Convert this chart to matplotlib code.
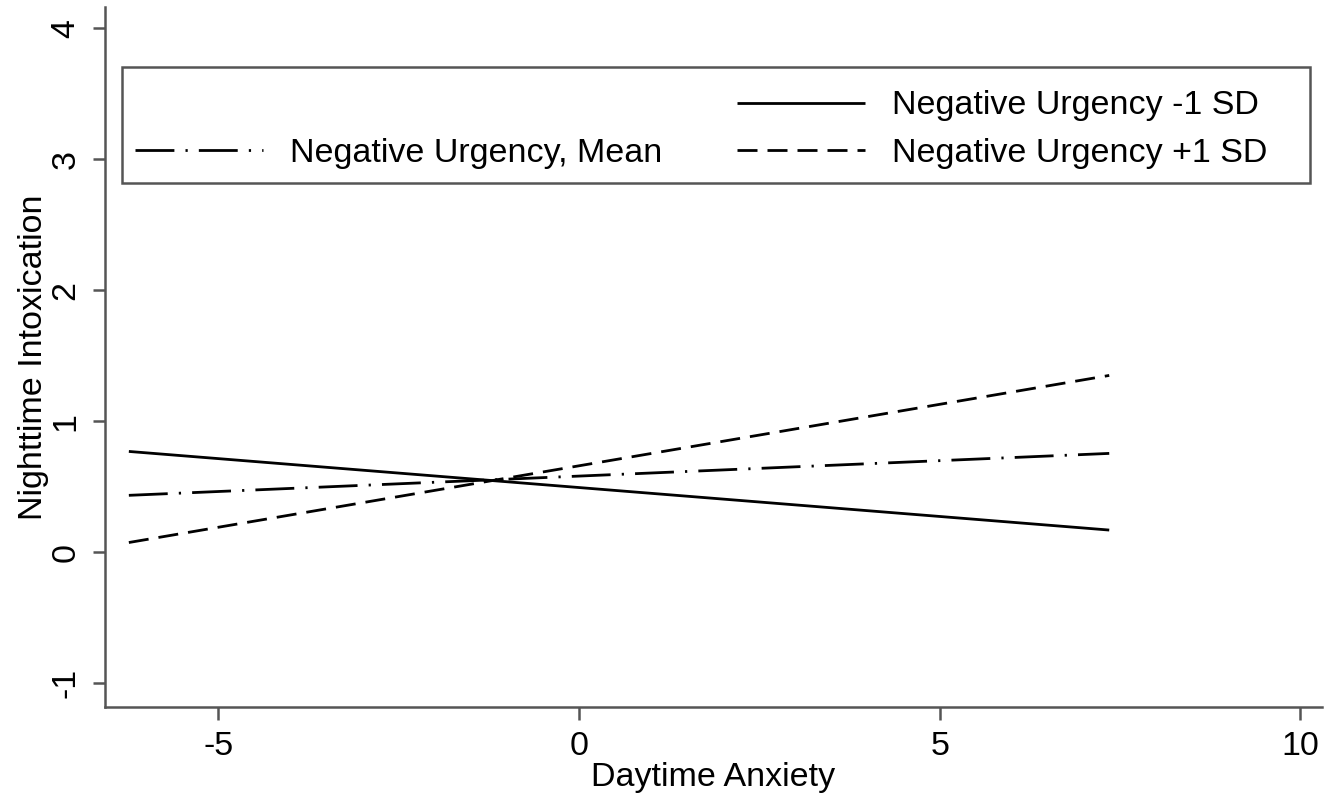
import matplotlib
matplotlib.use('Agg')
import matplotlib.pyplot as plt
from matplotlib.lines import Line2D
from matplotlib.patches import Rectangle

# Daytime Anxiety range covered by the predicted lines
anxiety = [-6.24, 7.35]
# predicted Nighttime Intoxication at the two ends
low_sd = [0.77, 0.17]     # Negative Urgency -1 SD
mean_nu = [0.435, 0.755]  # Negative Urgency, Mean
high_sd = [0.075, 1.35]   # Negative Urgency +1 SD

x_ticks = [-5, 0, 5, 10]
y_ticks = [-1, 0, 1, 2, 3, 4]

plt.rcParams['font.family'] = ['Liberation Sans', 'DejaVu Sans']
plt.rcParams['axes.unicode_minus'] = False
grey = '#555555'
fs = 24.5

fig = plt.figure(figsize=(13.4, 8.02), dpi=100)
ax = fig.add_axes([0.0784, 0.1185, 0.9082, 0.8725])

l1, = ax.plot(anxiety, low_sd, color='black', lw=2, solid_capstyle='butt')
l2, = ax.plot(anxiety, mean_nu, color='black', lw=2, dashes=(14, 4, 0.8, 4))
l3, = ax.plot(anxiety, high_sd, color='black', lw=2, dashes=(7.2, 3.6))

ax.set_xlim(-6.57, 10.3)
ax.set_ylim(-1.18, 4.16)
ax.set_xticks(x_ticks)
ax.set_yticks(y_ticks)
ax.set_yticklabels([str(v) for v in y_ticks], rotation=90, va='center')

for s in ['top', 'right']:
    ax.spines[s].set_visible(False)
for s in ['left', 'bottom']:
    ax.spines[s].set_color(grey)
    ax.spines[s].set_linewidth(1.8)
ax.tick_params(direction='out', length=9, width=1.8, color=grey,
               labelsize=fs, pad=8, labelcolor='black')

ax.set_xlabel('Daytime Anxiety', fontsize=fs, labelpad=0)
ax.set_ylabel('Nighttime Intoxication', fontsize=fs, labelpad=1)

# legend box (drawn separately so it spans the same width as the original)
ax.add_patch(Rectangle((0.014, 0.749), 0.976, 0.165, transform=ax.transAxes,
                       facecolor='white', edgecolor=grey, lw=1.8, zorder=4))
blank = Line2D([], [], color='none')
leg = ax.legend([blank, l2, l1, l3],
                ['', 'Negative Urgency, Mean', 'Negative Urgency -1 SD', 'Negative Urgency +1 SD'],
                ncol=2, loc='upper left', bbox_to_anchor=(0.0247, 0.881),
                fontsize=fs, handlelength=3.75, handletextpad=0.8,
                columnspacing=2.2, labelspacing=0.48, borderpad=0,
                borderaxespad=0, frameon=False)
leg.set_zorder(5)

fig.savefig('out.png', dpi=100)
